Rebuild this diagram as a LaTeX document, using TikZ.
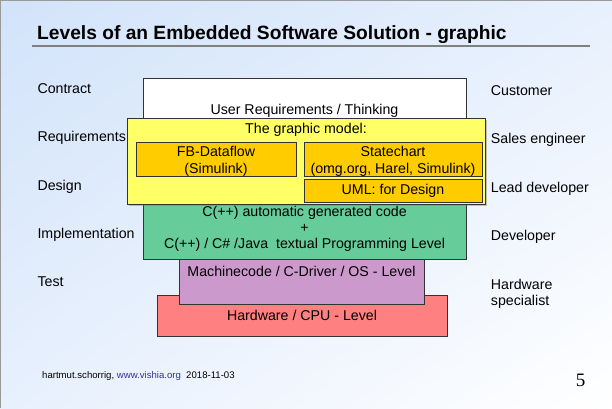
\documentclass[tikz,border=0pt]{standalone}
\usepackage{fontspec}
\setmainfont{Liberation Sans}
\newfontfamily\pagefont{Liberation Serif}
\usetikzlibrary{shadings,shadows}

\definecolor{bgtop}{RGB}{210,227,250}
\definecolor{bgmid}{RGB}{231,240,253}
\definecolor{modelyellow}{RGB}{255,255,102}
\definecolor{modelorange}{RGB}{255,204,0}
\definecolor{codegreen}{RGB}{102,204,153}
\definecolor{machinepurple}{RGB}{204,153,204}
\definecolor{hwred}{RGB}{255,128,128}
\definecolor{linkblue}{RGB}{51,51,153}

\def\levelw{323pt}

\begin{document}
\begin{tikzpicture}[x=1pt, y=-1pt, font=\fontsize{14.2}{16}\selectfont]
        \tikzstyle{level}=[rectangle, draw=black!80, line width=0.8pt, inner sep=0pt, align=center, minimum width=\levelw]
        \tikzstyle{modelpart}=[level, fill=modelorange, minimum width=178pt, minimum height=32pt, font=\fontsize{14.2}{16.6}\selectfont]
        \tikzstyle{role}=[anchor=base west, inner sep=0pt, align=left]

        \useasboundingbox (0,0) rectangle (612,408);
        \shade[upper left=bgtop, upper right=bgmid, lower left=bgmid, lower right=white] (0,0) rectangle (612,408);
        \draw[gray!80, line width=2pt] (0,408) -- (0,0) -- (612,0);

        \node[anchor=base west, inner sep=0pt, font=\fontsize{19.2}{22}\selectfont\bfseries] (title) at (37,39) {Levels of an Embedded Software Solution - graphic};
        \draw[gray, line width=2pt] (32,45.7) -- (590,45.7);

        \node[level, fill=hwred, minimum width=290pt, minimum height=41pt] (cpu) at (302,315.5) {Hardware / CPU - Level};
        \node[level, fill=machinepurple, minimum width=245pt, minimum height=45pt,
              label={[anchor=north, inner sep=7.7pt]north:Machinecode / C-Driver / OS - Level}] (machine) at (301.5,281.5) {};
        \node[level, fill=codegreen, minimum height=59.4pt] (code) at (304.5,229.3)
            {C(++) automatic generated code\\+\\C(++) / C\# /Java~ textual Programming Level};
        \node[level, fill=white, minimum height=65pt] (user) at (304.5,110.5) {User Requirements / Thinking};

        \node[level, fill=modelyellow, minimum width=358pt, minimum height=86pt,
              drop shadow={shadow xshift=1.5pt, shadow yshift=-1.5pt, opacity=0.45, fill=gray},
              label={[anchor=north, inner sep=5.3pt]north:The graphic model:}] (model) at (306,161) {};
        \node[modelpart, minimum width=160pt, text height=31pt] (fb) at (216,159.5) {FB-Dataflow\\(Simulink)};
        \node[modelpart, text height=31pt] (state) at (393,159.5) {Statechart\\(omg.org, Harel, Simulink)};
        \node[modelpart, minimum height=23pt] (uml) at (393,190.5) {UML: for Design};

        \node[role] (contract) at (37.3,93.3) {Contract};
        \node[role] (req) at (37.3,141.7) {Requirements};
        \node[role] (design) at (37.3,190) {Design};
        \node[role] (impl) at (37.3,238.3) {Implementation};
        \node[role] (test) at (37.3,286.7) {Test};

        \node[role] (customer) at (490.7,95.3) {Customer};
        \node[role] (sales) at (490.7,143.3) {Sales engineer};
        \node[role] (lead) at (490.7,192.3) {Lead developer};
        \node[role] (dev) at (490.7,240) {Developer};
        \node[role] (hw) at (490.7,305) {Hardware\\specialist};

        \node[anchor=base west, inner sep=0pt, font=\fontsize{9.6}{11}\selectfont] (footer) at (42,378.3)
            {hartmut.schorrig, \textcolor{linkblue}{www.vishia.org}~ 2018-11-03};
        \node[anchor=base, inner sep=0pt, font=\fontsize{19}{22}\pagefont] (page) at (580.5,386) {5};
\end{tikzpicture}
\end{document}
